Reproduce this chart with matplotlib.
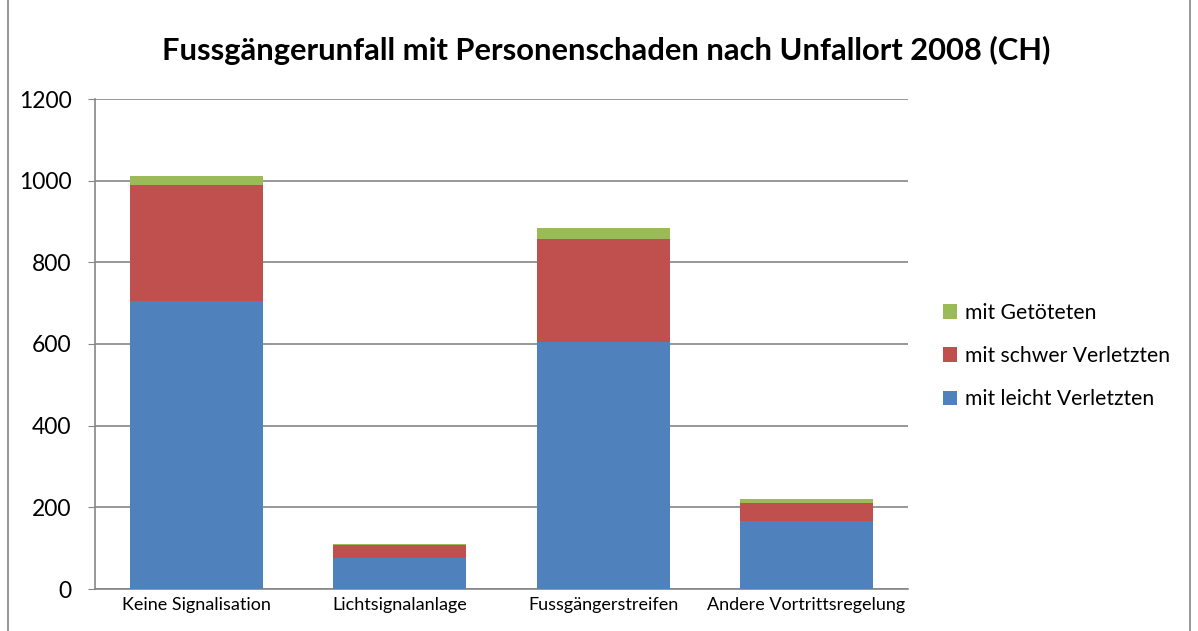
import matplotlib.pyplot as plt
from matplotlib.patches import Rectangle
import numpy as np

categories = ["Keine Signalisation", "Lichtsignalanlage", "Fussgängerstreifen", "Andere Vortrittsregelung"]
leicht = [706, 76, 605, 167]
schwer = [283, 31, 252, 43]
getoetet = [22, 4, 28, 10]

series_names = ["mit leicht Verletzten", "mit schwer Verletzten", "mit Getöteten"]
colors = ["#4F81BD", "#C0504D", "#9BBB59"]

plt.rcParams['font.family'] = ['Lato', 'DejaVu Sans']

fig = plt.figure(figsize=(11.98, 6.31), dpi=100)
ax = fig.add_axes([95 / 1198, 1 - 589 / 631, 813 / 1198, 490 / 631])

x = np.arange(len(categories))
bottom = np.zeros(len(categories))
for vals, name, col in zip([leicht, schwer, getoetet], series_names, colors):
    ax.bar(x, vals, 0.655, bottom=bottom, color=col, label=name, zorder=3)
    bottom += np.array(vals)

ax.set_xlim(-0.5, len(categories) - 0.5)
ax.set_ylim(0, 1200)
ax.set_yticks(range(0, 1201, 200))
ax.set_xticks(x)
ax.set_xticklabels(categories, fontsize=13)
ax.tick_params(axis='y', labelsize=16.5, length=5, color='#868686', pad=12)
ax.tick_params(axis='x', length=0, pad=6)
ax.yaxis.grid(True, color='#868686', linewidth=1.2, zorder=0)
for s in ['top', 'right']:
    ax.spines[s].set_visible(False)
for s in ['left', 'bottom']:
    ax.spines[s].set_color('#868686')
    ax.spines[s].set_linewidth(1.2)

fig.text(0.506, 1 - 50 / 631, "Fussgängerunfall mit Personenschaden nach Unfallort 2008 (CH)",
         ha='center', va='center', fontsize=22.2, fontweight='bold')

handles, labels = ax.get_legend_handles_labels()
fig.legend(handles[::-1], labels[::-1], loc='center left', bbox_to_anchor=(924 / 1198, 1 - 356 / 631),
           frameon=False, fontsize=15.2, handlelength=0.68, handleheight=0.68, labelspacing=1.1,
           handletextpad=0.35)

fig.patches.append(Rectangle((8 / 1198, -0.05), 1182 / 1198, 1.1, transform=fig.transFigure,
                             fill=False, edgecolor='#868686', linewidth=1.2))

fig.savefig("out.png", dpi=100)
